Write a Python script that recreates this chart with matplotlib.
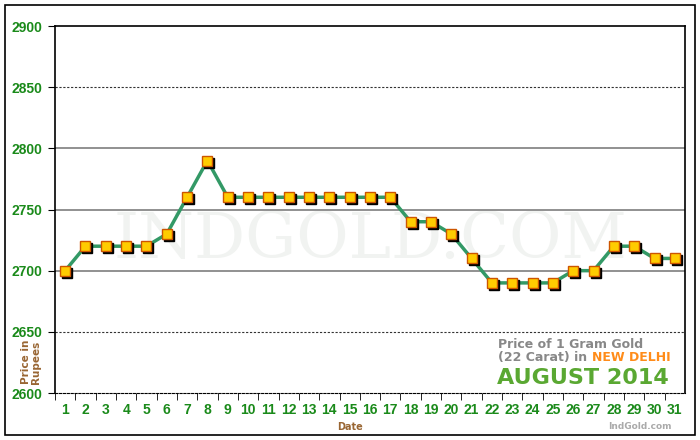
import matplotlib
matplotlib.use("Agg")
import matplotlib.pyplot as plt
from matplotlib.transforms import offset_copy

# Datos: precio del oro 22 quilates en Nueva Delhi, agosto 2014
dias = list(range(1, 32))
precios = [2700, 2720, 2720, 2720, 2720, 2730, 2760, 2790, 2760, 2760,
           2760, 2760, 2760, 2760, 2760, 2760, 2760, 2740, 2740, 2730,
           2710, 2690, 2690, 2690, 2690, 2700, 2700, 2720, 2720, 2710, 2710]
y_ticks = [2600, 2650, 2700, 2750, 2800, 2850, 2900]

verde = '#1a8a1a'
marron = '#996633'

fig = plt.figure(figsize=(7, 4.4), dpi=100)
ax = fig.add_axes([55/700, 1 - 393/440, 630/700, 367/440])

# borde exterior
fig.patches.append(plt.Rectangle((5/700, 5/440), 690/700, 430/440, transform=fig.transFigure,
                                 fill=False, edgecolor='black', linewidth=1.2))

# lineas de la rejilla
for v in y_ticks[1:-1]:
    if v in (2650, 2850):
        ax.axhline(v, color='#333333', linewidth=0.8, linestyle=(0, (2, 1.5)), zorder=1)
    else:
        ax.axhline(v, color='#888888', linewidth=1.3, zorder=1)

# marca de agua
ax.text(0.5, 0.415, 'INDGOLD.COM', transform=ax.transAxes, ha='center', va='center',
        fontsize=46, family='DejaVu Serif', color='#f1f3f1', zorder=0)

# serie
ax.plot(dias, precios, color='#339966', linewidth=2.5, zorder=3)
sombra = offset_copy(ax.transData, fig=fig, x=2, y=-2, units='dots')
ax.plot(dias, precios, linestyle='none', marker='s', markersize=7, color='black',
        transform=sombra, zorder=4)
ax.plot(dias, precios, linestyle='none', marker='s', markersize=7,
        markerfacecolor='#ffcc00', markeredgecolor='#cc5500', markeredgewidth=1, zorder=5)

ax.set_xlim(0.5, 31.5)
ax.set_ylim(2600, 2900)
ax.set_yticks(y_ticks)
ax.set_xticks(dias)
ax.set_xticks([d + 0.5 for d in range(0, 31)], minor=True)
ax.tick_params(axis='x', which='major', length=0, pad=12, labelsize=10, labelcolor=verde)
ax.tick_params(axis='x', which='minor', length=5, direction='out')
ax.tick_params(axis='y', length=5, direction='out', pad=4, labelsize=10, labelcolor=verde)
for lab in ax.get_xticklabels() + ax.get_yticklabels():
    lab.set_fontweight('bold')
    lab.set_family('Liberation Sans')
for lab in ax.get_xticklabels():
    lab.set_y(0.018)

ax.spines['bottom'].set_linestyle((0, (2, 1.5)))
ax.spines['bottom'].set_linewidth(0.8)
for s in ['left', 'right', 'top']:
    ax.spines[s].set_linewidth(1.2)

# textos
fig.text(350/700, 1 - 427/440, 'Date', ha='center', va='center', fontsize=7,
         fontweight='bold', color=marron)
fig.text(31/700, 1 - 362/440, 'Price in\nRupees', ha='center', va='center', rotation=90,
         fontsize=7.5, fontweight='bold', color=marron, linespacing=1.1)
fig.text(640/700, 1 - 426/440, 'IndGold.com', ha='center', va='center', fontsize=6.5,
         fontweight='bold', color='#aaaaaa')

fig.text(498/700, 1 - 344/440, 'Price of 1 Gram Gold', ha='left', va='center', fontsize=9,
         fontweight='bold', color='#888888')
t = fig.text(498/700, 1 - 357/440, '(22 Carat) in ', ha='left', va='center', fontsize=9,
             fontweight='bold', color='#888888')
fig.canvas.draw()
bb = t.get_window_extent()
fig.text(bb.x1 / 700, 1 - 357/440, 'NEW DELHI', ha='left', va='center', fontsize=9,
         fontweight='bold', color='#ff8c1a')
fig.text(497/700, 1 - 378/440, 'AUGUST 2014', ha='left', va='center', fontsize=16,
         fontweight='bold', color='#5aa832')

fig.savefig('out.png', dpi=100)
